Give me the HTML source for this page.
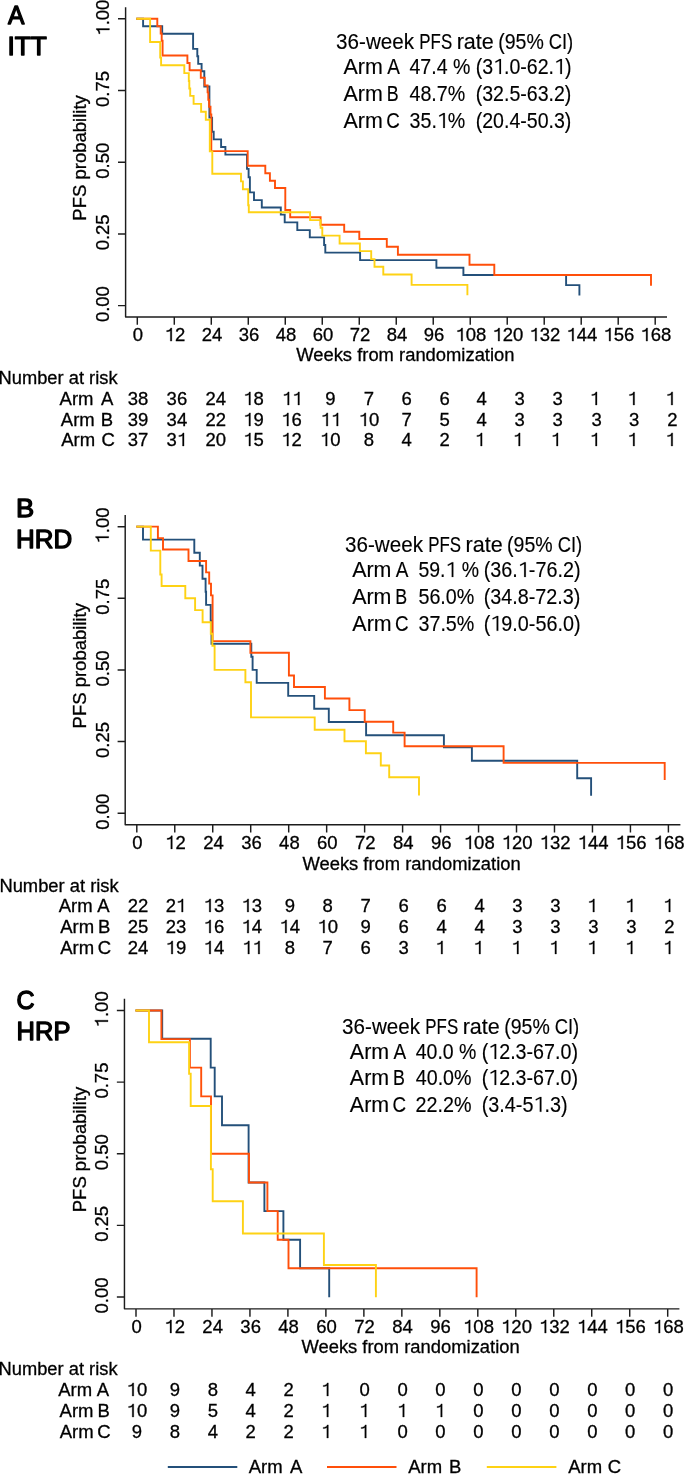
<!DOCTYPE html><html><head><meta charset="utf-8"><style>html,body{margin:0;padding:0;background:#fff;}svg{display:block;will-change:transform} text{stroke:#000;stroke-width:0.3px} .lab text{stroke:inherit;stroke-width:inherit} .st text{stroke-width:0.15px} path.g1{stroke:#000;stroke-width:0.3px;vector-effect:non-scaling-stroke} .st path.g1{stroke-width:0.15px}</style></head><body>
<svg width="685" height="1474" viewBox="0 0 685 1474" font-family="'Liberation Sans', sans-serif">
<rect width="685" height="1474" fill="#fff"/>
<g class="lab" stroke="#000" stroke-width="1.3" stroke-linejoin="round" stroke-linecap="round">
<g transform="translate(8,24.35) scale(0.96036,1)" fill="#000">
<text x="0" y="0" font-size="25.6">A</text>
</g>
<g transform="translate(7.43,55.35) scale(1.02662,1)" fill="#000">
<text x="0" y="0" font-size="25.6">ITT</text>
</g>
</g>
<path d="M125.6,7.2 V316.9 H667 M118,305.6 H125.6 M118,233.9 H125.6 M118,162.2 H125.6 M118,90.5 H125.6 M118,18.8 H125.6 M137.3,316.9 V324.7 M174.29,316.9 V324.7 M211.29,316.9 V324.7 M248.28,316.9 V324.7 M285.27,316.9 V324.7 M322.26,316.9 V324.7 M359.26,316.9 V324.7 M396.25,316.9 V324.7 M433.24,316.9 V324.7 M470.24,316.9 V324.7 M507.23,316.9 V324.7 M544.22,316.9 V324.7 M581.21,316.9 V324.7 M618.21,316.9 V324.7 M655.2,316.9 V324.7" fill="none" stroke="#1c1c1c" stroke-width="1.45" stroke-linejoin="round"/>
<g transform="translate(109.4,304.1) rotate(-90) translate(-18,0)" fill="#000000">
<text x="0" y="0" font-size="18.5">0.00</text>
</g>
<g transform="translate(109.4,232.4) rotate(-90) translate(-17.97,0)" fill="#000000">
<text x="0" y="0" font-size="18.5">0.25</text>
</g>
<g transform="translate(109.4,160.7) rotate(-90) translate(-18,0)" fill="#000000">
<text x="0" y="0" font-size="18.5">0.50</text>
</g>
<g transform="translate(109.4,89) rotate(-90) translate(-17.97,0)" fill="#000000">
<text x="0" y="0" font-size="18.5">0.75</text>
</g>
<g transform="translate(109.4,17.3) rotate(-90) translate(-18.34,0)" fill="#000000">
<text x="10.29 15.43 25.72" y="0" font-size="18.5">.00</text>
<path class="g1" d="M0.385,0 L0.385,-0.709 L0.323,-0.709 C0.300,-0.635 0.240,-0.578 0.105,-0.572 L0.105,-0.508 C0.200,-0.508 0.262,-0.530 0.305,-0.562 L0.305,0 Z" transform="translate(0,0) scale(18.5)"/>
</g>
<text transform="translate(86.2,157.2) rotate(-90)" x="-63.46" y="0" font-size="18.5" fill="#000000">PFS probability</text>
<text x="132.86" y="341.1" font-size="18.5" fill="#000000">0</text>
<g transform="translate(164.7,341.1)" fill="#000000">
<text x="10.29" y="0" font-size="18.5">2</text>
<path class="g1" d="M0.385,0 L0.385,-0.709 L0.323,-0.709 C0.300,-0.635 0.240,-0.578 0.105,-0.572 L0.105,-0.508 C0.200,-0.508 0.262,-0.530 0.305,-0.562 L0.305,0 Z" transform="translate(0,0) scale(18.5)"/>
</g>
<text x="201.7" y="341.1" font-size="18.5" fill="#000000">24</text>
<text x="238.69" y="341.1" font-size="18.5" fill="#000000">36</text>
<text x="275.68" y="341.1" font-size="18.5" fill="#000000">48</text>
<text x="312.68" y="341.1" font-size="18.5" fill="#000000">60</text>
<text x="349.67" y="341.1" font-size="18.5" fill="#000000">72</text>
<text x="386.66" y="341.1" font-size="18.5" fill="#000000">84</text>
<text x="423.65" y="341.1" font-size="18.5" fill="#000000">96</text>
<g transform="translate(455.5,341.1)" fill="#000000">
<text x="10.29 20.58" y="0" font-size="18.5">08</text>
<path class="g1" d="M0.385,0 L0.385,-0.709 L0.323,-0.709 C0.300,-0.635 0.240,-0.578 0.105,-0.572 L0.105,-0.508 C0.200,-0.508 0.262,-0.530 0.305,-0.562 L0.305,0 Z" transform="translate(0,0) scale(18.5)"/>
</g>
<g transform="translate(492.5,341.1)" fill="#000000">
<text x="10.29 20.58" y="0" font-size="18.5">20</text>
<path class="g1" d="M0.385,0 L0.385,-0.709 L0.323,-0.709 C0.300,-0.635 0.240,-0.578 0.105,-0.572 L0.105,-0.508 C0.200,-0.508 0.262,-0.530 0.305,-0.562 L0.305,0 Z" transform="translate(0,0) scale(18.5)"/>
</g>
<g transform="translate(529.49,341.1)" fill="#000000">
<text x="10.29 20.58" y="0" font-size="18.5">32</text>
<path class="g1" d="M0.385,0 L0.385,-0.709 L0.323,-0.709 C0.300,-0.635 0.240,-0.578 0.105,-0.572 L0.105,-0.508 C0.200,-0.508 0.262,-0.530 0.305,-0.562 L0.305,0 Z" transform="translate(0,0) scale(18.5)"/>
</g>
<g transform="translate(566.48,341.1)" fill="#000000">
<text x="10.29 20.58" y="0" font-size="18.5">44</text>
<path class="g1" d="M0.385,0 L0.385,-0.709 L0.323,-0.709 C0.300,-0.635 0.240,-0.578 0.105,-0.572 L0.105,-0.508 C0.200,-0.508 0.262,-0.530 0.305,-0.562 L0.305,0 Z" transform="translate(0,0) scale(18.5)"/>
</g>
<g transform="translate(603.47,341.1)" fill="#000000">
<text x="10.29 20.58" y="0" font-size="18.5">56</text>
<path class="g1" d="M0.385,0 L0.385,-0.709 L0.323,-0.709 C0.300,-0.635 0.240,-0.578 0.105,-0.572 L0.105,-0.508 C0.200,-0.508 0.262,-0.530 0.305,-0.562 L0.305,0 Z" transform="translate(0,0) scale(18.5)"/>
</g>
<g transform="translate(640.47,341.1)" fill="#000000">
<text x="10.29 20.58" y="0" font-size="18.5">68</text>
<path class="g1" d="M0.385,0 L0.385,-0.709 L0.323,-0.709 C0.300,-0.635 0.240,-0.578 0.105,-0.572 L0.105,-0.508 C0.200,-0.508 0.262,-0.530 0.305,-0.562 L0.305,0 Z" transform="translate(0,0) scale(18.5)"/>
</g>
<g transform="translate(296.21,361.1) scale(0.99408,1)" fill="#000000">
<text x="0" y="0" font-size="18.5">Weeks from randomization</text>
</g>
<path d="M136.3,18.8 H143.1 V26.2 H162.2 V33.75 H193.1 V48.9 H197.3 V56.3 H198.2 V63.9 H201.6 V71.3 H204.3 V86.5 H209.4 V117.6 H212.1 V131.8 H213.7 V139.4 H221.1 V147.0 H225.4 V154.6 H247.0 V168.9 H248.6 V177.3 H249.9 V192.4 H254.0 V200.1 H261.8 V207.5 H280.8 V214.6 H284.7 V222.4 H297.3 V230.1 H309.8 V237.4 H324.1 V245.0 H325.3 V252.6 H360.1 V260.1 H436.4 V267.7 H463.4 V275.0 H566.1 V285.1 H579.4 V295.5" fill="none" stroke="#24507a" stroke-width="1.9"/>
<path d="M136.3,18.8 H157.3 V26.2 H160.7 V33.5 H161.7 V40.8 H162.6 V55.5 H187.4 V63.0 H189.6 V70.3 H200.8 V77.7 H204.7 V85.4 H207.6 V92.4 H208.3 V99.7 H209.1 V106.7 H210.5 V114.5 H211.3 V151.1 H247.7 V165.8 H265.3 V173.3 H269.9 V180.7 H275.0 V188.0 H285.3 V210.0 H290.2 V217.3 H320.6 V224.8 H344.2 V231.8 H359.3 V239.0 H386.8 V246.7 H397.9 V254.8 H469.5 V264.8 H494.3 V275.0 H651.0 V285.8" fill="none" stroke="#ff4f0a" stroke-width="1.9"/>
<path d="M136.3,18.8 H150.1 V42.0 H160.2 V57.6 H161.1 V65.3 H184.3 V73.1 H188.8 V81.0 H189.3 V88.5 H190.2 V95.9 H193.6 V103.9 H201.1 V111.8 H205.8 V119.7 H209.8 V151.4 H212.3 V173.7 H241.0 V181.4 H242.9 V189.3 H248.2 V205.2 H248.8 V212.2 H310.1 V220.1 H320.6 V227.8 H322.3 V235.6 H339.6 V243.5 H359.9 V251.1 H371.2 V259.1 H374.5 V266.7 H383.3 V274.5 H411.6 V284.9 H467.4 V295.2" fill="none" stroke="#fed214" stroke-width="1.9"/>
<g class="st">
<g transform="translate(336.12,48.7) scale(0.96832,1)" fill="#000000">
<text x="0" y="0" font-size="21.3">36-week</text>
</g>
<g transform="translate(419.31,48.7) scale(0.79324,1)" fill="#000000">
<text x="0" y="0" font-size="21.3">PFS</text>
</g>
<g transform="translate(456.68,48.7) scale(1.01290,1)" fill="#000000">
<text x="0" y="0" font-size="21.3">rate</text>
</g>
<g transform="translate(498.19,48.7) scale(0.91714,1)" fill="#000000">
<text x="0" y="0" font-size="21.3">(95%</text>
</g>
<g transform="translate(548.76,48.7) scale(0.86200,1)" fill="#000000">
<text x="0" y="0" font-size="21.3">CI)</text>
</g>
<g transform="translate(343.56,74) scale(1.00547,1)" fill="#000000">
<text x="0" y="0" font-size="21.3">Arm</text>
</g>
<g transform="translate(387.16,74) scale(0.89223,1)" fill="#000000">
<text x="0" y="0" font-size="21.3">A</text>
</g>
<g transform="translate(409.45,74) scale(0.91899,1)" fill="#000000">
<text x="0" y="0" font-size="21.3">47.4 %</text>
</g>
<g transform="translate(475.69,74) scale(0.91868,1)" fill="#000000">
<text x="0 7.09 30.79 36.7 48.55 55.64 67.49 79.33 97.1" y="0" font-size="21.3">(3.0-62.)</text>
<path class="g1" d="M0.405,0 L0.405,-0.700 L0.335,-0.700 L0.110,-0.585 L0.128,-0.525 L0.322,-0.620 L0.322,0 Z" transform="translate(18.94,0) scale(21.3)"/>
<path class="g1" d="M0.405,0 L0.405,-0.700 L0.335,-0.700 L0.110,-0.585 L0.128,-0.525 L0.322,-0.620 L0.322,0 Z" transform="translate(85.25,0) scale(21.3)"/>
</g>
<g transform="translate(343.56,101) scale(1.00547,1)" fill="#000000">
<text x="0" y="0" font-size="21.3">Arm</text>
</g>
<g transform="translate(386.74,101) scale(0.83836,1)" fill="#000000">
<text x="0" y="0" font-size="21.3">B</text>
</g>
<g transform="translate(409.45,101) scale(0.92477,1)" fill="#000000">
<text x="0" y="0" font-size="21.3">48.7%</text>
</g>
<g transform="translate(475.69,101) scale(0.91868,1)" fill="#000000">
<text x="0" y="0" font-size="21.3">(32.5-63.2)</text>
</g>
<g transform="translate(343.56,127.9) scale(1.00547,1)" fill="#000000">
<text x="0" y="0" font-size="21.3">Arm</text>
</g>
<g transform="translate(386.24,127.9) scale(0.88260,1)" fill="#000000">
<text x="0" y="0" font-size="21.3">C</text>
</g>
<g transform="translate(409.55,127.9) scale(0.92299,1)" fill="#000000">
<text x="0 11.85 23.69 41.46" y="0" font-size="21.3">35.%</text>
<path class="g1" d="M0.405,0 L0.405,-0.700 L0.335,-0.700 L0.110,-0.585 L0.128,-0.525 L0.322,-0.620 L0.322,0 Z" transform="translate(29.61,0) scale(21.3)"/>
</g>
<g transform="translate(475.69,127.9) scale(0.91868,1)" fill="#000000">
<text x="0" y="0" font-size="21.3">(20.4-50.3)</text>
</g>
</g>
<g transform="translate(-1.5,383.7) scale(0.99084,1)" fill="#000000">
<text x="0" y="0" font-size="18.5">Number at risk</text>
</g>
<text x="59.56" y="405" font-size="18.5" fill="#000000">Arm</text>
<text x="100.96" y="405" font-size="18.5" fill="#000000">A</text>
<text x="127.81" y="405" font-size="18.5" fill="#000000">38</text>
<text x="166.61" y="405" font-size="18.5" fill="#000000">36</text>
<text x="205.51" y="405" font-size="18.5" fill="#000000">24</text>
<g transform="translate(243.31,405)" fill="#000000">
<text x="10.29" y="0" font-size="18.5">8</text>
<path class="g1" d="M0.385,0 L0.385,-0.709 L0.323,-0.709 C0.300,-0.635 0.240,-0.578 0.105,-0.572 L0.105,-0.508 C0.200,-0.508 0.262,-0.530 0.305,-0.562 L0.305,0 Z" transform="translate(0,0) scale(18.5)"/>
</g>
<g transform="translate(282,405)" fill="#000000">
<path class="g1" d="M0.385,0 L0.385,-0.709 L0.323,-0.709 C0.300,-0.635 0.240,-0.578 0.105,-0.572 L0.105,-0.508 C0.200,-0.508 0.262,-0.530 0.305,-0.562 L0.305,0 Z" transform="translate(0,0) scale(18.5)"/>
<path class="g1" d="M0.385,0 L0.385,-0.709 L0.323,-0.709 C0.300,-0.635 0.240,-0.578 0.105,-0.572 L0.105,-0.508 C0.200,-0.508 0.262,-0.530 0.305,-0.562 L0.305,0 Z" transform="translate(10.29,0) scale(18.5)"/>
</g>
<text x="325.16" y="405" font-size="18.5" fill="#000000">9</text>
<text x="363.86" y="405" font-size="18.5" fill="#000000">7</text>
<text x="401.56" y="405" font-size="18.5" fill="#000000">6</text>
<text x="439.56" y="405" font-size="18.5" fill="#000000">6</text>
<text x="476.56" y="405" font-size="18.5" fill="#000000">4</text>
<text x="514.56" y="405" font-size="18.5" fill="#000000">3</text>
<text x="552.46" y="405" font-size="18.5" fill="#000000">3</text>
<g transform="translate(589.86,405)" fill="#000000">
<path class="g1" d="M0.385,0 L0.385,-0.709 L0.323,-0.709 C0.300,-0.635 0.240,-0.578 0.105,-0.572 L0.105,-0.508 C0.200,-0.508 0.262,-0.530 0.305,-0.562 L0.305,0 Z" transform="translate(0,0) scale(18.5)"/>
</g>
<g transform="translate(627.46,405)" fill="#000000">
<path class="g1" d="M0.385,0 L0.385,-0.709 L0.323,-0.709 C0.300,-0.635 0.240,-0.578 0.105,-0.572 L0.105,-0.508 C0.200,-0.508 0.262,-0.530 0.305,-0.562 L0.305,0 Z" transform="translate(0,0) scale(18.5)"/>
</g>
<g transform="translate(665.56,405)" fill="#000000">
<path class="g1" d="M0.385,0 L0.385,-0.709 L0.323,-0.709 C0.300,-0.635 0.240,-0.578 0.105,-0.572 L0.105,-0.508 C0.200,-0.508 0.262,-0.530 0.305,-0.562 L0.305,0 Z" transform="translate(0,0) scale(18.5)"/>
</g>
<text x="60.86" y="426" font-size="18.5" fill="#000000">Arm</text>
<text x="100.68" y="426" font-size="18.5" fill="#000000">B</text>
<text x="127.81" y="426" font-size="18.5" fill="#000000">39</text>
<text x="166.61" y="426" font-size="18.5" fill="#000000">34</text>
<text x="205.51" y="426" font-size="18.5" fill="#000000">22</text>
<g transform="translate(243.31,426)" fill="#000000">
<text x="10.29" y="0" font-size="18.5">9</text>
<path class="g1" d="M0.385,0 L0.385,-0.709 L0.323,-0.709 C0.300,-0.635 0.240,-0.578 0.105,-0.572 L0.105,-0.508 C0.200,-0.508 0.262,-0.530 0.305,-0.562 L0.305,0 Z" transform="translate(0,0) scale(18.5)"/>
</g>
<g transform="translate(281.31,426)" fill="#000000">
<text x="10.29" y="0" font-size="18.5">6</text>
<path class="g1" d="M0.385,0 L0.385,-0.709 L0.323,-0.709 C0.300,-0.635 0.240,-0.578 0.105,-0.572 L0.105,-0.508 C0.200,-0.508 0.262,-0.530 0.305,-0.562 L0.305,0 Z" transform="translate(0,0) scale(18.5)"/>
</g>
<g transform="translate(320.7,426)" fill="#000000">
<path class="g1" d="M0.385,0 L0.385,-0.709 L0.323,-0.709 C0.300,-0.635 0.240,-0.578 0.105,-0.572 L0.105,-0.508 C0.200,-0.508 0.262,-0.530 0.305,-0.562 L0.305,0 Z" transform="translate(0,0) scale(18.5)"/>
<path class="g1" d="M0.385,0 L0.385,-0.709 L0.323,-0.709 C0.300,-0.635 0.240,-0.578 0.105,-0.572 L0.105,-0.508 C0.200,-0.508 0.262,-0.530 0.305,-0.562 L0.305,0 Z" transform="translate(10.29,0) scale(18.5)"/>
</g>
<g transform="translate(358.71,426)" fill="#000000">
<text x="10.29" y="0" font-size="18.5">0</text>
<path class="g1" d="M0.385,0 L0.385,-0.709 L0.323,-0.709 C0.300,-0.635 0.240,-0.578 0.105,-0.572 L0.105,-0.508 C0.200,-0.508 0.262,-0.530 0.305,-0.562 L0.305,0 Z" transform="translate(0,0) scale(18.5)"/>
</g>
<text x="401.56" y="426" font-size="18.5" fill="#000000">7</text>
<text x="439.56" y="426" font-size="18.5" fill="#000000">5</text>
<text x="476.56" y="426" font-size="18.5" fill="#000000">4</text>
<text x="514.56" y="426" font-size="18.5" fill="#000000">3</text>
<text x="552.46" y="426" font-size="18.5" fill="#000000">3</text>
<text x="591.46" y="426" font-size="18.5" fill="#000000">3</text>
<text x="629.06" y="426" font-size="18.5" fill="#000000">3</text>
<text x="667.16" y="426" font-size="18.5" fill="#000000">2</text>
<text x="61.16" y="446" font-size="18.5" fill="#000000">Arm</text>
<text x="101.46" y="446" font-size="18.5" fill="#000000">C</text>
<text x="127.81" y="446" font-size="18.5" fill="#000000">37</text>
<g transform="translate(166.61,446)" fill="#000000">
<text x="0" y="0" font-size="18.5">3</text>
<path class="g1" d="M0.385,0 L0.385,-0.709 L0.323,-0.709 C0.300,-0.635 0.240,-0.578 0.105,-0.572 L0.105,-0.508 C0.200,-0.508 0.262,-0.530 0.305,-0.562 L0.305,0 Z" transform="translate(10.29,0) scale(18.5)"/>
</g>
<text x="205.51" y="446" font-size="18.5" fill="#000000">20</text>
<g transform="translate(243.31,446)" fill="#000000">
<text x="10.29" y="0" font-size="18.5">5</text>
<path class="g1" d="M0.385,0 L0.385,-0.709 L0.323,-0.709 C0.300,-0.635 0.240,-0.578 0.105,-0.572 L0.105,-0.508 C0.200,-0.508 0.262,-0.530 0.305,-0.562 L0.305,0 Z" transform="translate(0,0) scale(18.5)"/>
</g>
<g transform="translate(281.31,446)" fill="#000000">
<text x="10.29" y="0" font-size="18.5">2</text>
<path class="g1" d="M0.385,0 L0.385,-0.709 L0.323,-0.709 C0.300,-0.635 0.240,-0.578 0.105,-0.572 L0.105,-0.508 C0.200,-0.508 0.262,-0.530 0.305,-0.562 L0.305,0 Z" transform="translate(0,0) scale(18.5)"/>
</g>
<g transform="translate(320.01,446)" fill="#000000">
<text x="10.29" y="0" font-size="18.5">0</text>
<path class="g1" d="M0.385,0 L0.385,-0.709 L0.323,-0.709 C0.300,-0.635 0.240,-0.578 0.105,-0.572 L0.105,-0.508 C0.200,-0.508 0.262,-0.530 0.305,-0.562 L0.305,0 Z" transform="translate(0,0) scale(18.5)"/>
</g>
<text x="363.86" y="446" font-size="18.5" fill="#000000">8</text>
<text x="401.56" y="446" font-size="18.5" fill="#000000">4</text>
<text x="439.56" y="446" font-size="18.5" fill="#000000">2</text>
<g transform="translate(474.96,446)" fill="#000000">
<path class="g1" d="M0.385,0 L0.385,-0.709 L0.323,-0.709 C0.300,-0.635 0.240,-0.578 0.105,-0.572 L0.105,-0.508 C0.200,-0.508 0.262,-0.530 0.305,-0.562 L0.305,0 Z" transform="translate(0,0) scale(18.5)"/>
</g>
<g transform="translate(512.96,446)" fill="#000000">
<path class="g1" d="M0.385,0 L0.385,-0.709 L0.323,-0.709 C0.300,-0.635 0.240,-0.578 0.105,-0.572 L0.105,-0.508 C0.200,-0.508 0.262,-0.530 0.305,-0.562 L0.305,0 Z" transform="translate(0,0) scale(18.5)"/>
</g>
<g transform="translate(550.86,446)" fill="#000000">
<path class="g1" d="M0.385,0 L0.385,-0.709 L0.323,-0.709 C0.300,-0.635 0.240,-0.578 0.105,-0.572 L0.105,-0.508 C0.200,-0.508 0.262,-0.530 0.305,-0.562 L0.305,0 Z" transform="translate(0,0) scale(18.5)"/>
</g>
<g transform="translate(589.86,446)" fill="#000000">
<path class="g1" d="M0.385,0 L0.385,-0.709 L0.323,-0.709 C0.300,-0.635 0.240,-0.578 0.105,-0.572 L0.105,-0.508 C0.200,-0.508 0.262,-0.530 0.305,-0.562 L0.305,0 Z" transform="translate(0,0) scale(18.5)"/>
</g>
<g transform="translate(627.46,446)" fill="#000000">
<path class="g1" d="M0.385,0 L0.385,-0.709 L0.323,-0.709 C0.300,-0.635 0.240,-0.578 0.105,-0.572 L0.105,-0.508 C0.200,-0.508 0.262,-0.530 0.305,-0.562 L0.305,0 Z" transform="translate(0,0) scale(18.5)"/>
</g>
<g transform="translate(665.56,446)" fill="#000000">
<path class="g1" d="M0.385,0 L0.385,-0.709 L0.323,-0.709 C0.300,-0.635 0.240,-0.578 0.105,-0.572 L0.105,-0.508 C0.200,-0.508 0.262,-0.530 0.305,-0.562 L0.305,0 Z" transform="translate(0,0) scale(18.5)"/>
</g>
<g class="lab" stroke="#000" stroke-width="1.3" stroke-linejoin="round" stroke-linecap="round">
<g transform="translate(15.92,517.35) scale(1.06467,1)" fill="#000">
<text x="0" y="0" font-size="25.6">B</text>
</g>
<g transform="translate(16.02,548.05) scale(1.01302,1)" fill="#000">
<text x="0" y="0" font-size="25.6">HRD</text>
</g>
</g>
<path d="M125.2,515 V824.7 H680.4 M117.6,813.2 H125.2 M117.6,741.58 H125.2 M117.6,669.95 H125.2 M117.6,598.33 H125.2 M117.6,526.7 H125.2 M136.8,824.7 V832.5 M174.77,824.7 V832.5 M212.74,824.7 V832.5 M250.71,824.7 V832.5 M288.69,824.7 V832.5 M326.66,824.7 V832.5 M364.63,824.7 V832.5 M402.6,824.7 V832.5 M440.57,824.7 V832.5 M478.54,824.7 V832.5 M516.51,824.7 V832.5 M554.49,824.7 V832.5 M592.46,824.7 V832.5 M630.43,824.7 V832.5 M668.4,824.7 V832.5" fill="none" stroke="#1c1c1c" stroke-width="1.45" stroke-linejoin="round"/>
<g transform="translate(108.7,811.7) rotate(-90) translate(-18,0)" fill="#000000">
<text x="0" y="0" font-size="18.5">0.00</text>
</g>
<g transform="translate(108.7,740.08) rotate(-90) translate(-17.97,0)" fill="#000000">
<text x="0" y="0" font-size="18.5">0.25</text>
</g>
<g transform="translate(108.7,668.45) rotate(-90) translate(-18,0)" fill="#000000">
<text x="0" y="0" font-size="18.5">0.50</text>
</g>
<g transform="translate(108.7,596.83) rotate(-90) translate(-17.97,0)" fill="#000000">
<text x="0" y="0" font-size="18.5">0.75</text>
</g>
<g transform="translate(108.7,525.2) rotate(-90) translate(-18.34,0)" fill="#000000">
<text x="10.29 15.43 25.72" y="0" font-size="18.5">.00</text>
<path class="g1" d="M0.385,0 L0.385,-0.709 L0.323,-0.709 C0.300,-0.635 0.240,-0.578 0.105,-0.572 L0.105,-0.508 C0.200,-0.508 0.262,-0.530 0.305,-0.562 L0.305,0 Z" transform="translate(0,0) scale(18.5)"/>
</g>
<text transform="translate(86.2,665) rotate(-90)" x="-63.46" y="0" font-size="18.5" fill="#000000">PFS probability</text>
<text x="132.36" y="848.9" font-size="18.5" fill="#000000">0</text>
<g transform="translate(165.18,848.9)" fill="#000000">
<text x="10.29" y="0" font-size="18.5">2</text>
<path class="g1" d="M0.385,0 L0.385,-0.709 L0.323,-0.709 C0.300,-0.635 0.240,-0.578 0.105,-0.572 L0.105,-0.508 C0.200,-0.508 0.262,-0.530 0.305,-0.562 L0.305,0 Z" transform="translate(0,0) scale(18.5)"/>
</g>
<text x="203.15" y="848.9" font-size="18.5" fill="#000000">24</text>
<text x="241.13" y="848.9" font-size="18.5" fill="#000000">36</text>
<text x="279.1" y="848.9" font-size="18.5" fill="#000000">48</text>
<text x="317.07" y="848.9" font-size="18.5" fill="#000000">60</text>
<text x="355.04" y="848.9" font-size="18.5" fill="#000000">72</text>
<text x="393.01" y="848.9" font-size="18.5" fill="#000000">84</text>
<text x="430.98" y="848.9" font-size="18.5" fill="#000000">96</text>
<g transform="translate(463.81,848.9)" fill="#000000">
<text x="10.29 20.58" y="0" font-size="18.5">08</text>
<path class="g1" d="M0.385,0 L0.385,-0.709 L0.323,-0.709 C0.300,-0.635 0.240,-0.578 0.105,-0.572 L0.105,-0.508 C0.200,-0.508 0.262,-0.530 0.305,-0.562 L0.305,0 Z" transform="translate(0,0) scale(18.5)"/>
</g>
<g transform="translate(501.78,848.9)" fill="#000000">
<text x="10.29 20.58" y="0" font-size="18.5">20</text>
<path class="g1" d="M0.385,0 L0.385,-0.709 L0.323,-0.709 C0.300,-0.635 0.240,-0.578 0.105,-0.572 L0.105,-0.508 C0.200,-0.508 0.262,-0.530 0.305,-0.562 L0.305,0 Z" transform="translate(0,0) scale(18.5)"/>
</g>
<g transform="translate(539.75,848.9)" fill="#000000">
<text x="10.29 20.58" y="0" font-size="18.5">32</text>
<path class="g1" d="M0.385,0 L0.385,-0.709 L0.323,-0.709 C0.300,-0.635 0.240,-0.578 0.105,-0.572 L0.105,-0.508 C0.200,-0.508 0.262,-0.530 0.305,-0.562 L0.305,0 Z" transform="translate(0,0) scale(18.5)"/>
</g>
<g transform="translate(577.72,848.9)" fill="#000000">
<text x="10.29 20.58" y="0" font-size="18.5">44</text>
<path class="g1" d="M0.385,0 L0.385,-0.709 L0.323,-0.709 C0.300,-0.635 0.240,-0.578 0.105,-0.572 L0.105,-0.508 C0.200,-0.508 0.262,-0.530 0.305,-0.562 L0.305,0 Z" transform="translate(0,0) scale(18.5)"/>
</g>
<g transform="translate(615.7,848.9)" fill="#000000">
<text x="10.29 20.58" y="0" font-size="18.5">56</text>
<path class="g1" d="M0.385,0 L0.385,-0.709 L0.323,-0.709 C0.300,-0.635 0.240,-0.578 0.105,-0.572 L0.105,-0.508 C0.200,-0.508 0.262,-0.530 0.305,-0.562 L0.305,0 Z" transform="translate(0,0) scale(18.5)"/>
</g>
<g transform="translate(653.67,848.9)" fill="#000000">
<text x="10.29 20.58" y="0" font-size="18.5">68</text>
<path class="g1" d="M0.385,0 L0.385,-0.709 L0.323,-0.709 C0.300,-0.635 0.240,-0.578 0.105,-0.572 L0.105,-0.508 C0.200,-0.508 0.262,-0.530 0.305,-0.562 L0.305,0 Z" transform="translate(0,0) scale(18.5)"/>
</g>
<g transform="translate(302.41,869.6) scale(0.99408,1)" fill="#000000">
<text x="0" y="0" font-size="18.5">Weeks from randomization</text>
</g>
<path d="M136.3,526.6 H143.0 V539.6 H194.3 V552.7 H199.8 V565.6 H202.5 V578.8 H205.6 V591.8 H206.1 V604.9 H210.7 V620.7 H211.5 V643.7 H251.3 V656.8 H252.6 V669.9 H256.7 V682.9 H288.2 V695.9 H314.2 V708.7 H328.8 V722.0 H366.1 V735.2 H443.9 V747.4 H471.9 V760.8 H577.2 V778.2 H591.1 V795.8" fill="none" stroke="#24507a" stroke-width="1.9"/>
<path d="M136.3,526.6 H157.9 V538.1 H163.0 V549.5 H188.5 V561.0 H206.1 V572.4 H209.2 V583.6 H211.0 V595.4 H212.6 V641.1 H250.4 V652.7 H288.9 V675.5 H294.0 V687.0 H324.9 V698.5 H349.4 V710.1 H364.7 V721.7 H393.2 V732.6 H404.6 V746.3 H503.6 V762.9 H664.7 V779.9" fill="none" stroke="#ff4f0a" stroke-width="1.9"/>
<path d="M136.3,526.6 H150.8 V550.6 H160.3 V574.5 H161.6 V586.0 H185.3 V598.3 H195.1 V610.1 H202.6 V622.2 H210.8 V633.8 H212.4 V645.9 H214.6 V669.9 H245.4 V682.2 H251.0 V717.4 H314.7 V729.7 H344.5 V741.3 H365.9 V753.2 H380.8 V765.5 H389.2 V777.2 H419.0 V795.6" fill="none" stroke="#fed214" stroke-width="1.9"/>
<g class="st">
<g transform="translate(345.02,552) scale(0.96832,1)" fill="#000000">
<text x="0" y="0" font-size="21.3">36-week</text>
</g>
<g transform="translate(428.21,552) scale(0.79324,1)" fill="#000000">
<text x="0" y="0" font-size="21.3">PFS</text>
</g>
<g transform="translate(465.58,552) scale(1.01290,1)" fill="#000000">
<text x="0" y="0" font-size="21.3">rate</text>
</g>
<g transform="translate(507.09,552) scale(0.91714,1)" fill="#000000">
<text x="0" y="0" font-size="21.3">(95%</text>
</g>
<g transform="translate(557.66,552) scale(0.86200,1)" fill="#000000">
<text x="0" y="0" font-size="21.3">CI)</text>
</g>
<g transform="translate(352.16,577.1) scale(1.00547,1)" fill="#000000">
<text x="0" y="0" font-size="21.3">Arm</text>
</g>
<g transform="translate(395.76,577.1) scale(0.89223,1)" fill="#000000">
<text x="0" y="0" font-size="21.3">A</text>
</g>
<g transform="translate(418.42,577.1) scale(0.91331,1)" fill="#000000">
<text x="0 11.85 23.69 41.46 47.37" y="0" font-size="21.3">59. %</text>
<path class="g1" d="M0.405,0 L0.405,-0.700 L0.335,-0.700 L0.110,-0.585 L0.128,-0.525 L0.322,-0.620 L0.322,0 Z" transform="translate(29.61,0) scale(21.3)"/>
</g>
<g transform="translate(483.67,577.1) scale(0.92951,1)" fill="#000000">
<text x="0 7.09 18.94 30.79 48.55 55.64 67.49 79.33 85.25 97.1" y="0" font-size="21.3">(36.-76.2)</text>
<path class="g1" d="M0.405,0 L0.405,-0.700 L0.335,-0.700 L0.110,-0.585 L0.128,-0.525 L0.322,-0.620 L0.322,0 Z" transform="translate(36.7,0) scale(21.3)"/>
</g>
<g transform="translate(352.16,604.1) scale(1.00547,1)" fill="#000000">
<text x="0" y="0" font-size="21.3">Arm</text>
</g>
<g transform="translate(395.34,604.1) scale(0.83836,1)" fill="#000000">
<text x="0" y="0" font-size="21.3">B</text>
</g>
<g transform="translate(418.41,604.1) scale(0.92706,1)" fill="#000000">
<text x="0" y="0" font-size="21.3">56.0%</text>
</g>
<g transform="translate(483.67,604.1) scale(0.92951,1)" fill="#000000">
<text x="0" y="0" font-size="21.3">(34.8-72.3)</text>
</g>
<g transform="translate(352.36,630.8) scale(1.00547,1)" fill="#000000">
<text x="0" y="0" font-size="21.3">Arm</text>
</g>
<g transform="translate(395.04,630.8) scale(0.88260,1)" fill="#000000">
<text x="0" y="0" font-size="21.3">C</text>
</g>
<g transform="translate(418.45,630.8) scale(0.92639,1)" fill="#000000">
<text x="0" y="0" font-size="21.3">37.5%</text>
</g>
<g transform="translate(483.67,630.8) scale(0.92951,1)" fill="#000000">
<text x="0 18.94 30.79 36.7 48.55 55.64 67.49 79.33 85.25 97.1" y="0" font-size="21.3">(9.0-56.0)</text>
<path class="g1" d="M0.405,0 L0.405,-0.700 L0.335,-0.700 L0.110,-0.585 L0.128,-0.525 L0.322,-0.620 L0.322,0 Z" transform="translate(7.09,0) scale(21.3)"/>
</g>
</g>
<g transform="translate(-0.61,891.5) scale(0.99252,1)" fill="#000000">
<text x="0" y="0" font-size="18.5">Number at risk</text>
</g>
<text x="58.76" y="912" font-size="18.5" fill="#000000">Arm</text>
<text x="97.16" y="912" font-size="18.5" fill="#000000">A</text>
<text x="127.71" y="912" font-size="18.5" fill="#000000">22</text>
<g transform="translate(165.66,912)" fill="#000000">
<text x="0" y="0" font-size="18.5">2</text>
<path class="g1" d="M0.385,0 L0.385,-0.709 L0.323,-0.709 C0.300,-0.635 0.240,-0.578 0.105,-0.572 L0.105,-0.508 C0.200,-0.508 0.262,-0.530 0.305,-0.562 L0.305,0 Z" transform="translate(10.29,0) scale(18.5)"/>
</g>
<g transform="translate(203.61,912)" fill="#000000">
<text x="10.29" y="0" font-size="18.5">3</text>
<path class="g1" d="M0.385,0 L0.385,-0.709 L0.323,-0.709 C0.300,-0.635 0.240,-0.578 0.105,-0.572 L0.105,-0.508 C0.200,-0.508 0.262,-0.530 0.305,-0.562 L0.305,0 Z" transform="translate(0,0) scale(18.5)"/>
</g>
<g transform="translate(241.56,912)" fill="#000000">
<text x="10.29" y="0" font-size="18.5">3</text>
<path class="g1" d="M0.385,0 L0.385,-0.709 L0.323,-0.709 C0.300,-0.635 0.240,-0.578 0.105,-0.572 L0.105,-0.508 C0.200,-0.508 0.262,-0.530 0.305,-0.562 L0.305,0 Z" transform="translate(0,0) scale(18.5)"/>
</g>
<text x="284.66" y="912" font-size="18.5" fill="#000000">9</text>
<text x="322.61" y="912" font-size="18.5" fill="#000000">8</text>
<text x="360.56" y="912" font-size="18.5" fill="#000000">7</text>
<text x="398.51" y="912" font-size="18.5" fill="#000000">6</text>
<text x="436.46" y="912" font-size="18.5" fill="#000000">6</text>
<text x="474.41" y="912" font-size="18.5" fill="#000000">4</text>
<text x="512.36" y="912" font-size="18.5" fill="#000000">3</text>
<text x="550.31" y="912" font-size="18.5" fill="#000000">3</text>
<g transform="translate(587.26,912)" fill="#000000">
<path class="g1" d="M0.385,0 L0.385,-0.709 L0.323,-0.709 C0.300,-0.635 0.240,-0.578 0.105,-0.572 L0.105,-0.508 C0.200,-0.508 0.262,-0.530 0.305,-0.562 L0.305,0 Z" transform="translate(0,0) scale(18.5)"/>
</g>
<g transform="translate(625.21,912)" fill="#000000">
<path class="g1" d="M0.385,0 L0.385,-0.709 L0.323,-0.709 C0.300,-0.635 0.240,-0.578 0.105,-0.572 L0.105,-0.508 C0.200,-0.508 0.262,-0.530 0.305,-0.562 L0.305,0 Z" transform="translate(0,0) scale(18.5)"/>
</g>
<g transform="translate(663.16,912)" fill="#000000">
<path class="g1" d="M0.385,0 L0.385,-0.709 L0.323,-0.709 C0.300,-0.635 0.240,-0.578 0.105,-0.572 L0.105,-0.508 C0.200,-0.508 0.262,-0.530 0.305,-0.562 L0.305,0 Z" transform="translate(0,0) scale(18.5)"/>
</g>
<text x="60.16" y="933" font-size="18.5" fill="#000000">Arm</text>
<text x="98.08" y="933" font-size="18.5" fill="#000000">B</text>
<text x="127.71" y="933" font-size="18.5" fill="#000000">25</text>
<text x="165.66" y="933" font-size="18.5" fill="#000000">23</text>
<g transform="translate(203.61,933)" fill="#000000">
<text x="10.29" y="0" font-size="18.5">6</text>
<path class="g1" d="M0.385,0 L0.385,-0.709 L0.323,-0.709 C0.300,-0.635 0.240,-0.578 0.105,-0.572 L0.105,-0.508 C0.200,-0.508 0.262,-0.530 0.305,-0.562 L0.305,0 Z" transform="translate(0,0) scale(18.5)"/>
</g>
<g transform="translate(241.56,933)" fill="#000000">
<text x="10.29" y="0" font-size="18.5">4</text>
<path class="g1" d="M0.385,0 L0.385,-0.709 L0.323,-0.709 C0.300,-0.635 0.240,-0.578 0.105,-0.572 L0.105,-0.508 C0.200,-0.508 0.262,-0.530 0.305,-0.562 L0.305,0 Z" transform="translate(0,0) scale(18.5)"/>
</g>
<g transform="translate(279.51,933)" fill="#000000">
<text x="10.29" y="0" font-size="18.5">4</text>
<path class="g1" d="M0.385,0 L0.385,-0.709 L0.323,-0.709 C0.300,-0.635 0.240,-0.578 0.105,-0.572 L0.105,-0.508 C0.200,-0.508 0.262,-0.530 0.305,-0.562 L0.305,0 Z" transform="translate(0,0) scale(18.5)"/>
</g>
<g transform="translate(317.46,933)" fill="#000000">
<text x="10.29" y="0" font-size="18.5">0</text>
<path class="g1" d="M0.385,0 L0.385,-0.709 L0.323,-0.709 C0.300,-0.635 0.240,-0.578 0.105,-0.572 L0.105,-0.508 C0.200,-0.508 0.262,-0.530 0.305,-0.562 L0.305,0 Z" transform="translate(0,0) scale(18.5)"/>
</g>
<text x="360.56" y="933" font-size="18.5" fill="#000000">9</text>
<text x="398.51" y="933" font-size="18.5" fill="#000000">6</text>
<text x="436.46" y="933" font-size="18.5" fill="#000000">4</text>
<text x="474.41" y="933" font-size="18.5" fill="#000000">4</text>
<text x="512.36" y="933" font-size="18.5" fill="#000000">3</text>
<text x="550.31" y="933" font-size="18.5" fill="#000000">3</text>
<text x="588.26" y="933" font-size="18.5" fill="#000000">3</text>
<text x="626.21" y="933" font-size="18.5" fill="#000000">3</text>
<text x="664.16" y="933" font-size="18.5" fill="#000000">2</text>
<text x="60.16" y="954" font-size="18.5" fill="#000000">Arm</text>
<text x="97.86" y="954" font-size="18.5" fill="#000000">C</text>
<text x="127.71" y="954" font-size="18.5" fill="#000000">24</text>
<g transform="translate(165.66,954)" fill="#000000">
<text x="10.29" y="0" font-size="18.5">9</text>
<path class="g1" d="M0.385,0 L0.385,-0.709 L0.323,-0.709 C0.300,-0.635 0.240,-0.578 0.105,-0.572 L0.105,-0.508 C0.200,-0.508 0.262,-0.530 0.305,-0.562 L0.305,0 Z" transform="translate(0,0) scale(18.5)"/>
</g>
<g transform="translate(203.61,954)" fill="#000000">
<text x="10.29" y="0" font-size="18.5">4</text>
<path class="g1" d="M0.385,0 L0.385,-0.709 L0.323,-0.709 C0.300,-0.635 0.240,-0.578 0.105,-0.572 L0.105,-0.508 C0.200,-0.508 0.262,-0.530 0.305,-0.562 L0.305,0 Z" transform="translate(0,0) scale(18.5)"/>
</g>
<g transform="translate(242.25,954)" fill="#000000">
<path class="g1" d="M0.385,0 L0.385,-0.709 L0.323,-0.709 C0.300,-0.635 0.240,-0.578 0.105,-0.572 L0.105,-0.508 C0.200,-0.508 0.262,-0.530 0.305,-0.562 L0.305,0 Z" transform="translate(0,0) scale(18.5)"/>
<path class="g1" d="M0.385,0 L0.385,-0.709 L0.323,-0.709 C0.300,-0.635 0.240,-0.578 0.105,-0.572 L0.105,-0.508 C0.200,-0.508 0.262,-0.530 0.305,-0.562 L0.305,0 Z" transform="translate(10.29,0) scale(18.5)"/>
</g>
<text x="284.66" y="954" font-size="18.5" fill="#000000">8</text>
<text x="322.61" y="954" font-size="18.5" fill="#000000">7</text>
<text x="360.56" y="954" font-size="18.5" fill="#000000">6</text>
<text x="398.51" y="954" font-size="18.5" fill="#000000">3</text>
<g transform="translate(435.46,954)" fill="#000000">
<path class="g1" d="M0.385,0 L0.385,-0.709 L0.323,-0.709 C0.300,-0.635 0.240,-0.578 0.105,-0.572 L0.105,-0.508 C0.200,-0.508 0.262,-0.530 0.305,-0.562 L0.305,0 Z" transform="translate(0,0) scale(18.5)"/>
</g>
<g transform="translate(473.41,954)" fill="#000000">
<path class="g1" d="M0.385,0 L0.385,-0.709 L0.323,-0.709 C0.300,-0.635 0.240,-0.578 0.105,-0.572 L0.105,-0.508 C0.200,-0.508 0.262,-0.530 0.305,-0.562 L0.305,0 Z" transform="translate(0,0) scale(18.5)"/>
</g>
<g transform="translate(511.36,954)" fill="#000000">
<path class="g1" d="M0.385,0 L0.385,-0.709 L0.323,-0.709 C0.300,-0.635 0.240,-0.578 0.105,-0.572 L0.105,-0.508 C0.200,-0.508 0.262,-0.530 0.305,-0.562 L0.305,0 Z" transform="translate(0,0) scale(18.5)"/>
</g>
<g transform="translate(549.31,954)" fill="#000000">
<path class="g1" d="M0.385,0 L0.385,-0.709 L0.323,-0.709 C0.300,-0.635 0.240,-0.578 0.105,-0.572 L0.105,-0.508 C0.200,-0.508 0.262,-0.530 0.305,-0.562 L0.305,0 Z" transform="translate(0,0) scale(18.5)"/>
</g>
<g transform="translate(587.26,954)" fill="#000000">
<path class="g1" d="M0.385,0 L0.385,-0.709 L0.323,-0.709 C0.300,-0.635 0.240,-0.578 0.105,-0.572 L0.105,-0.508 C0.200,-0.508 0.262,-0.530 0.305,-0.562 L0.305,0 Z" transform="translate(0,0) scale(18.5)"/>
</g>
<g transform="translate(625.21,954)" fill="#000000">
<path class="g1" d="M0.385,0 L0.385,-0.709 L0.323,-0.709 C0.300,-0.635 0.240,-0.578 0.105,-0.572 L0.105,-0.508 C0.200,-0.508 0.262,-0.530 0.305,-0.562 L0.305,0 Z" transform="translate(0,0) scale(18.5)"/>
</g>
<g transform="translate(663.16,954)" fill="#000000">
<path class="g1" d="M0.385,0 L0.385,-0.709 L0.323,-0.709 C0.300,-0.635 0.240,-0.578 0.105,-0.572 L0.105,-0.508 C0.200,-0.508 0.262,-0.530 0.305,-0.562 L0.305,0 Z" transform="translate(0,0) scale(18.5)"/>
</g>
<g class="lab" stroke="#000" stroke-width="1.3" stroke-linejoin="round" stroke-linecap="round">
<g transform="translate(16.48,1009.35) scale(0.97502,1)" fill="#000">
<text x="0" y="0" font-size="25.6">C</text>
</g>
<g transform="translate(16.56,1040.05) scale(0.99633,1)" fill="#000">
<text x="0" y="0" font-size="25.6">HRP</text>
</g>
</g>
<path d="M124.45,998.8 V1308.85 H679.4 M116.85,1297 H124.45 M116.85,1225.38 H124.45 M116.85,1153.75 H124.45 M116.85,1082.12 H124.45 M116.85,1010.5 H124.45 M136,1308.85 V1316.65 M173.98,1308.85 V1316.65 M211.96,1308.85 V1316.65 M249.94,1308.85 V1316.65 M287.91,1308.85 V1316.65 M325.89,1308.85 V1316.65 M363.87,1308.85 V1316.65 M401.85,1308.85 V1316.65 M439.83,1308.85 V1316.65 M477.81,1308.85 V1316.65 M515.79,1308.85 V1316.65 M553.76,1308.85 V1316.65 M591.74,1308.85 V1316.65 M629.72,1308.85 V1316.65 M667.7,1308.85 V1316.65" fill="none" stroke="#1c1c1c" stroke-width="1.45" stroke-linejoin="round"/>
<g transform="translate(108,1295.5) rotate(-90) translate(-18,0)" fill="#000000">
<text x="0" y="0" font-size="18.5">0.00</text>
</g>
<g transform="translate(108,1223.88) rotate(-90) translate(-17.97,0)" fill="#000000">
<text x="0" y="0" font-size="18.5">0.25</text>
</g>
<g transform="translate(108,1152.25) rotate(-90) translate(-18,0)" fill="#000000">
<text x="0" y="0" font-size="18.5">0.50</text>
</g>
<g transform="translate(108,1080.62) rotate(-90) translate(-17.97,0)" fill="#000000">
<text x="0" y="0" font-size="18.5">0.75</text>
</g>
<g transform="translate(108,1009) rotate(-90) translate(-18.34,0)" fill="#000000">
<text x="10.29 15.43 25.72" y="0" font-size="18.5">.00</text>
<path class="g1" d="M0.385,0 L0.385,-0.709 L0.323,-0.709 C0.300,-0.635 0.240,-0.578 0.105,-0.572 L0.105,-0.508 C0.200,-0.508 0.262,-0.530 0.305,-0.562 L0.305,0 Z" transform="translate(0,0) scale(18.5)"/>
</g>
<text transform="translate(86.2,1148.8) rotate(-90)" x="-63.46" y="0" font-size="18.5" fill="#000000">PFS probability</text>
<text x="131.56" y="1333.05" font-size="18.5" fill="#000000">0</text>
<g transform="translate(164.39,1333.05)" fill="#000000">
<text x="10.29" y="0" font-size="18.5">2</text>
<path class="g1" d="M0.385,0 L0.385,-0.709 L0.323,-0.709 C0.300,-0.635 0.240,-0.578 0.105,-0.572 L0.105,-0.508 C0.200,-0.508 0.262,-0.530 0.305,-0.562 L0.305,0 Z" transform="translate(0,0) scale(18.5)"/>
</g>
<text x="202.37" y="1333.05" font-size="18.5" fill="#000000">24</text>
<text x="240.35" y="1333.05" font-size="18.5" fill="#000000">36</text>
<text x="278.33" y="1333.05" font-size="18.5" fill="#000000">48</text>
<text x="316.3" y="1333.05" font-size="18.5" fill="#000000">60</text>
<text x="354.28" y="1333.05" font-size="18.5" fill="#000000">72</text>
<text x="392.26" y="1333.05" font-size="18.5" fill="#000000">84</text>
<text x="430.24" y="1333.05" font-size="18.5" fill="#000000">96</text>
<g transform="translate(463.07,1333.05)" fill="#000000">
<text x="10.29 20.58" y="0" font-size="18.5">08</text>
<path class="g1" d="M0.385,0 L0.385,-0.709 L0.323,-0.709 C0.300,-0.635 0.240,-0.578 0.105,-0.572 L0.105,-0.508 C0.200,-0.508 0.262,-0.530 0.305,-0.562 L0.305,0 Z" transform="translate(0,0) scale(18.5)"/>
</g>
<g transform="translate(501.05,1333.05)" fill="#000000">
<text x="10.29 20.58" y="0" font-size="18.5">20</text>
<path class="g1" d="M0.385,0 L0.385,-0.709 L0.323,-0.709 C0.300,-0.635 0.240,-0.578 0.105,-0.572 L0.105,-0.508 C0.200,-0.508 0.262,-0.530 0.305,-0.562 L0.305,0 Z" transform="translate(0,0) scale(18.5)"/>
</g>
<g transform="translate(539.03,1333.05)" fill="#000000">
<text x="10.29 20.58" y="0" font-size="18.5">32</text>
<path class="g1" d="M0.385,0 L0.385,-0.709 L0.323,-0.709 C0.300,-0.635 0.240,-0.578 0.105,-0.572 L0.105,-0.508 C0.200,-0.508 0.262,-0.530 0.305,-0.562 L0.305,0 Z" transform="translate(0,0) scale(18.5)"/>
</g>
<g transform="translate(577.01,1333.05)" fill="#000000">
<text x="10.29 20.58" y="0" font-size="18.5">44</text>
<path class="g1" d="M0.385,0 L0.385,-0.709 L0.323,-0.709 C0.300,-0.635 0.240,-0.578 0.105,-0.572 L0.105,-0.508 C0.200,-0.508 0.262,-0.530 0.305,-0.562 L0.305,0 Z" transform="translate(0,0) scale(18.5)"/>
</g>
<g transform="translate(614.99,1333.05)" fill="#000000">
<text x="10.29 20.58" y="0" font-size="18.5">56</text>
<path class="g1" d="M0.385,0 L0.385,-0.709 L0.323,-0.709 C0.300,-0.635 0.240,-0.578 0.105,-0.572 L0.105,-0.508 C0.200,-0.508 0.262,-0.530 0.305,-0.562 L0.305,0 Z" transform="translate(0,0) scale(18.5)"/>
</g>
<g transform="translate(652.97,1333.05)" fill="#000000">
<text x="10.29 20.58" y="0" font-size="18.5">68</text>
<path class="g1" d="M0.385,0 L0.385,-0.709 L0.323,-0.709 C0.300,-0.635 0.240,-0.578 0.105,-0.572 L0.105,-0.508 C0.200,-0.508 0.262,-0.530 0.305,-0.562 L0.305,0 Z" transform="translate(0,0) scale(18.5)"/>
</g>
<g transform="translate(301.41,1352.7) scale(0.99408,1)" fill="#000000">
<text x="0" y="0" font-size="18.5">Weeks from randomization</text>
</g>
<path d="M135.5,1010.5 H162.2 V1038.8 H210.7 V1067.6 H214.7 V1096.4 H222.0 V1125.3 H248.6 V1182.5 H264.4 V1211.1 H283.4 V1239.7 H300.1 V1268.3 H329.2 V1297.2" fill="none" stroke="#24507a" stroke-width="1.9"/>
<path d="M135.5,1010.5 H161.4 V1039.1 H189.9 V1067.6 H201.2 V1096.4 H211.0 V1153.8 H249.0 V1182.5 H267.4 V1211.1 H277.7 V1239.7 H288.5 V1268.2 H476.6 V1297.2" fill="none" stroke="#ff4f0a" stroke-width="1.9"/>
<path d="M135.5,1010.5 H149.0 V1042.3 H189.1 V1073.7 H190.7 V1106.0 H210.9 V1169.3 H212.7 V1201.3 H242.9 V1233.5 H323.9 V1265.0 H375.9 V1297.2" fill="none" stroke="#fed214" stroke-width="1.9"/>
<g class="st">
<g transform="translate(342.12,1033.5) scale(0.96832,1)" fill="#000000">
<text x="0" y="0" font-size="21.3">36-week</text>
</g>
<g transform="translate(425.31,1033.5) scale(0.79324,1)" fill="#000000">
<text x="0" y="0" font-size="21.3">PFS</text>
</g>
<g transform="translate(462.68,1033.5) scale(1.01290,1)" fill="#000000">
<text x="0" y="0" font-size="21.3">rate</text>
</g>
<g transform="translate(504.19,1033.5) scale(0.91714,1)" fill="#000000">
<text x="0" y="0" font-size="21.3">(95%</text>
</g>
<g transform="translate(554.76,1033.5) scale(0.86200,1)" fill="#000000">
<text x="0" y="0" font-size="21.3">CI)</text>
</g>
<g transform="translate(349.86,1058.9) scale(1.00547,1)" fill="#000000">
<text x="0" y="0" font-size="21.3">Arm</text>
</g>
<g transform="translate(393.46,1058.9) scale(0.89223,1)" fill="#000000">
<text x="0" y="0" font-size="21.3">A</text>
</g>
<g transform="translate(415.75,1058.9) scale(0.91592,1)" fill="#000000">
<text x="0" y="0" font-size="21.3">40.0 %</text>
</g>
<g transform="translate(481.68,1058.9) scale(0.92459,1)" fill="#000000">
<text x="0 18.94 30.79 36.7 48.55 55.64 67.49 79.33 85.25 97.1" y="0" font-size="21.3">(2.3-67.0)</text>
<path class="g1" d="M0.405,0 L0.405,-0.700 L0.335,-0.700 L0.110,-0.585 L0.128,-0.525 L0.322,-0.620 L0.322,0 Z" transform="translate(7.09,0) scale(21.3)"/>
</g>
<g transform="translate(349.86,1085) scale(1.00547,1)" fill="#000000">
<text x="0" y="0" font-size="21.3">Arm</text>
</g>
<g transform="translate(393.04,1085) scale(0.83836,1)" fill="#000000">
<text x="0" y="0" font-size="21.3">B</text>
</g>
<g transform="translate(415.75,1085) scale(0.92477,1)" fill="#000000">
<text x="0" y="0" font-size="21.3">40.0%</text>
</g>
<g transform="translate(481.68,1085) scale(0.92459,1)" fill="#000000">
<text x="0 18.94 30.79 36.7 48.55 55.64 67.49 79.33 85.25 97.1" y="0" font-size="21.3">(2.3-67.0)</text>
<path class="g1" d="M0.405,0 L0.405,-0.700 L0.335,-0.700 L0.110,-0.585 L0.128,-0.525 L0.322,-0.620 L0.322,0 Z" transform="translate(7.09,0) scale(21.3)"/>
</g>
<g transform="translate(349.86,1111.8) scale(1.00547,1)" fill="#000000">
<text x="0" y="0" font-size="21.3">Arm</text>
</g>
<g transform="translate(392.54,1111.8) scale(0.88260,1)" fill="#000000">
<text x="0" y="0" font-size="21.3">C</text>
</g>
<g transform="translate(415.61,1111.8) scale(0.92702,1)" fill="#000000">
<text x="0" y="0" font-size="21.3">22.2%</text>
</g>
<g transform="translate(481.67,1111.8) scale(0.92982,1)" fill="#000000">
<text x="0 7.09 18.94 24.86 36.7 43.8 67.49 73.41 85.25" y="0" font-size="21.3">(3.4-5.3)</text>
<path class="g1" d="M0.405,0 L0.405,-0.700 L0.335,-0.700 L0.110,-0.585 L0.128,-0.525 L0.322,-0.620 L0.322,0 Z" transform="translate(55.64,0) scale(21.3)"/>
</g>
</g>
<g transform="translate(-1.5,1374.9) scale(0.99084,1)" fill="#000000">
<text x="0" y="0" font-size="18.5">Number at risk</text>
</g>
<text x="58.26" y="1396" font-size="18.5" fill="#000000">Arm</text>
<text x="96.66" y="1396" font-size="18.5" fill="#000000">A</text>
<g transform="translate(126.61,1396)" fill="#000000">
<text x="10.29" y="0" font-size="18.5">0</text>
<path class="g1" d="M0.385,0 L0.385,-0.709 L0.323,-0.709 C0.300,-0.635 0.240,-0.578 0.105,-0.572 L0.105,-0.508 C0.200,-0.508 0.262,-0.530 0.305,-0.562 L0.305,0 Z" transform="translate(0,0) scale(18.5)"/>
</g>
<text x="169.71" y="1396" font-size="18.5" fill="#000000">9</text>
<text x="207.66" y="1396" font-size="18.5" fill="#000000">8</text>
<text x="245.61" y="1396" font-size="18.5" fill="#000000">4</text>
<text x="283.56" y="1396" font-size="18.5" fill="#000000">2</text>
<g transform="translate(321.21,1396)" fill="#000000">
<path class="g1" d="M0.385,0 L0.385,-0.709 L0.323,-0.709 C0.300,-0.635 0.240,-0.578 0.105,-0.572 L0.105,-0.508 C0.200,-0.508 0.262,-0.530 0.305,-0.562 L0.305,0 Z" transform="translate(0,0) scale(18.5)"/>
</g>
<text x="359.46" y="1396" font-size="18.5" fill="#000000">0</text>
<text x="397.41" y="1396" font-size="18.5" fill="#000000">0</text>
<text x="435.36" y="1396" font-size="18.5" fill="#000000">0</text>
<text x="473.31" y="1396" font-size="18.5" fill="#000000">0</text>
<text x="511.26" y="1396" font-size="18.5" fill="#000000">0</text>
<text x="549.21" y="1396" font-size="18.5" fill="#000000">0</text>
<text x="587.16" y="1396" font-size="18.5" fill="#000000">0</text>
<text x="625.11" y="1396" font-size="18.5" fill="#000000">0</text>
<text x="663.06" y="1396" font-size="18.5" fill="#000000">0</text>
<text x="59.56" y="1417" font-size="18.5" fill="#000000">Arm</text>
<text x="97.58" y="1417" font-size="18.5" fill="#000000">B</text>
<g transform="translate(126.61,1417)" fill="#000000">
<text x="10.29" y="0" font-size="18.5">0</text>
<path class="g1" d="M0.385,0 L0.385,-0.709 L0.323,-0.709 C0.300,-0.635 0.240,-0.578 0.105,-0.572 L0.105,-0.508 C0.200,-0.508 0.262,-0.530 0.305,-0.562 L0.305,0 Z" transform="translate(0,0) scale(18.5)"/>
</g>
<text x="169.71" y="1417" font-size="18.5" fill="#000000">9</text>
<text x="207.66" y="1417" font-size="18.5" fill="#000000">5</text>
<text x="245.61" y="1417" font-size="18.5" fill="#000000">4</text>
<text x="283.56" y="1417" font-size="18.5" fill="#000000">2</text>
<g transform="translate(321.21,1417)" fill="#000000">
<path class="g1" d="M0.385,0 L0.385,-0.709 L0.323,-0.709 C0.300,-0.635 0.240,-0.578 0.105,-0.572 L0.105,-0.508 C0.200,-0.508 0.262,-0.530 0.305,-0.562 L0.305,0 Z" transform="translate(0,0) scale(18.5)"/>
</g>
<g transform="translate(359.16,1417)" fill="#000000">
<path class="g1" d="M0.385,0 L0.385,-0.709 L0.323,-0.709 C0.300,-0.635 0.240,-0.578 0.105,-0.572 L0.105,-0.508 C0.200,-0.508 0.262,-0.530 0.305,-0.562 L0.305,0 Z" transform="translate(0,0) scale(18.5)"/>
</g>
<g transform="translate(397.11,1417)" fill="#000000">
<path class="g1" d="M0.385,0 L0.385,-0.709 L0.323,-0.709 C0.300,-0.635 0.240,-0.578 0.105,-0.572 L0.105,-0.508 C0.200,-0.508 0.262,-0.530 0.305,-0.562 L0.305,0 Z" transform="translate(0,0) scale(18.5)"/>
</g>
<g transform="translate(435.06,1417)" fill="#000000">
<path class="g1" d="M0.385,0 L0.385,-0.709 L0.323,-0.709 C0.300,-0.635 0.240,-0.578 0.105,-0.572 L0.105,-0.508 C0.200,-0.508 0.262,-0.530 0.305,-0.562 L0.305,0 Z" transform="translate(0,0) scale(18.5)"/>
</g>
<text x="473.31" y="1417" font-size="18.5" fill="#000000">0</text>
<text x="511.26" y="1417" font-size="18.5" fill="#000000">0</text>
<text x="549.21" y="1417" font-size="18.5" fill="#000000">0</text>
<text x="587.16" y="1417" font-size="18.5" fill="#000000">0</text>
<text x="625.11" y="1417" font-size="18.5" fill="#000000">0</text>
<text x="663.06" y="1417" font-size="18.5" fill="#000000">0</text>
<text x="59.66" y="1438" font-size="18.5" fill="#000000">Arm</text>
<text x="97.26" y="1438" font-size="18.5" fill="#000000">C</text>
<text x="131.76" y="1438" font-size="18.5" fill="#000000">9</text>
<text x="169.71" y="1438" font-size="18.5" fill="#000000">8</text>
<text x="207.66" y="1438" font-size="18.5" fill="#000000">4</text>
<text x="245.61" y="1438" font-size="18.5" fill="#000000">2</text>
<text x="283.56" y="1438" font-size="18.5" fill="#000000">2</text>
<g transform="translate(321.21,1438)" fill="#000000">
<path class="g1" d="M0.385,0 L0.385,-0.709 L0.323,-0.709 C0.300,-0.635 0.240,-0.578 0.105,-0.572 L0.105,-0.508 C0.200,-0.508 0.262,-0.530 0.305,-0.562 L0.305,0 Z" transform="translate(0,0) scale(18.5)"/>
</g>
<g transform="translate(359.16,1438)" fill="#000000">
<path class="g1" d="M0.385,0 L0.385,-0.709 L0.323,-0.709 C0.300,-0.635 0.240,-0.578 0.105,-0.572 L0.105,-0.508 C0.200,-0.508 0.262,-0.530 0.305,-0.562 L0.305,0 Z" transform="translate(0,0) scale(18.5)"/>
</g>
<text x="397.41" y="1438" font-size="18.5" fill="#000000">0</text>
<text x="435.36" y="1438" font-size="18.5" fill="#000000">0</text>
<text x="473.31" y="1438" font-size="18.5" fill="#000000">0</text>
<text x="511.26" y="1438" font-size="18.5" fill="#000000">0</text>
<text x="549.21" y="1438" font-size="18.5" fill="#000000">0</text>
<text x="587.16" y="1438" font-size="18.5" fill="#000000">0</text>
<text x="625.11" y="1438" font-size="18.5" fill="#000000">0</text>
<text x="663.06" y="1438" font-size="18.5" fill="#000000">0</text>
<path d="M167.8,1467 H237.3" stroke="#24507a" stroke-width="2"/>
<text x="248.66" y="1472.5" font-size="18.5" fill="#000000">Arm</text>
<text x="290.06" y="1472.5" font-size="18.5" fill="#000000">A</text>
<path d="M327,1467 H396.5" stroke="#ff4f0a" stroke-width="2"/>
<text x="408.16" y="1472.5" font-size="18.5" fill="#000000">Arm</text>
<text x="449.08" y="1472.5" font-size="18.5" fill="#000000">B</text>
<path d="M486.8,1467 H556.4" stroke="#fed214" stroke-width="2"/>
<text x="568.16" y="1472.5" font-size="18.5" fill="#000000">Arm</text>
<text x="607.86" y="1472.5" font-size="18.5" fill="#000000">C</text>
</svg></body></html>
